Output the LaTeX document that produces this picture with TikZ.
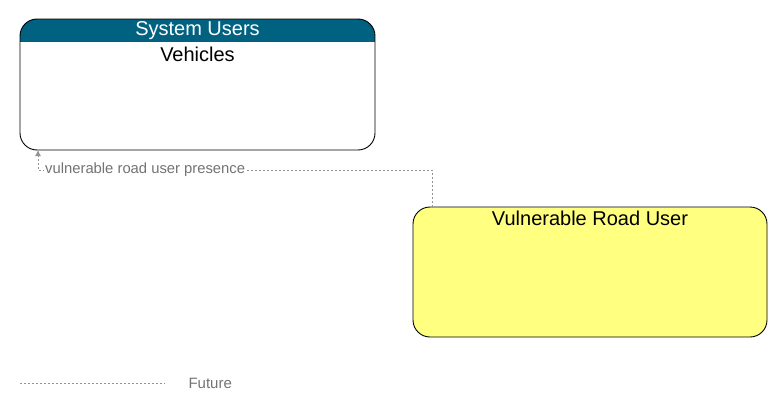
\documentclass[tikz,border=0pt]{standalone}
\usepackage{fontspec}
\usetikzlibrary{arrows.meta}
\setmainfont{Liberation Sans}
\begin{document}
\begin{tikzpicture}[x=1pt,y=-1pt,
  flow/.style={draw=gray!85,dash pattern=on 2pt off 2pt,line width=0.8pt},
  big/.style={font=\fontsize{20}{23}\selectfont},
  lbl/.style={text=gray!90!black,font=\fontsize{14.8}{17}\selectfont,fill=white,inner sep=1pt}]
\useasboundingbox (0,0) rectangle (783,412);
\definecolor{hdr}{RGB}{0,98,128}
\definecolor{yel}{RGB}{255,255,128}
% Vehicles
\begin{scope}
\clip[rounded corners=17pt] (20,19) rectangle (375,150);
\fill[hdr] (20,19) rectangle (375,42);
\end{scope}
\draw[line width=0.9pt,rounded corners=17pt] (20,19) rectangle (375,150);
\node[text=white,big] (hd) at (197.5,30.5) {System Users};
\node[big] (veh) at (197.5,54) {Vehicles};
\coordinate (vin) at (38,150);
% VRU
\draw[line width=0.9pt,fill=yel,rounded corners=17pt] (413,207) rectangle (767,337);
\node[big] (vru) at (590,218) {Vulnerable Road User};
\coordinate (vout) at (432,207);
\draw[flow,-{Latex[length=6pt,width=6pt]}] (vout) -- (432,170) -- (38,170) -- (vin);
\node[lbl,anchor=west] (fl) at (44,170) {vulnerable road user presence};
% legend
\coordinate (l1) at (20,383); \coordinate (l2) at (165,383);
\draw[flow] (l1) -- (l2);
\node[text=gray!90!black,font=\fontsize{15}{17}\selectfont,anchor=west] (fut) at (185,383) {Future};
\end{tikzpicture}
\end{document}
